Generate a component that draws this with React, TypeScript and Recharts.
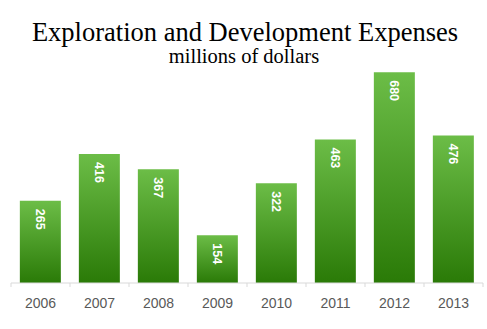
import { BarChart, Bar, XAxis, YAxis, LabelList } from 'recharts'

const years = ['2006', '2007', '2008', '2009', '2010', '2011', '2012', '2013']
const expenses = [265, 416, 367, 154, 322, 463, 680, 476]

const chartData = years.map((year, i) => ({ year, value: expenses[i] }))

const BAND = 59 // category width in px, used for the boundary tick marks

function YearTick(props: any) {
  const { x, y, payload, index } = props
  return (
    <g>
      <line x1={x - BAND / 2} y1={y} x2={x - BAND / 2} y2={y + 4} stroke="#d9d9d9" />
      {index === years.length - 1 && (
        <line x1={x + BAND / 2} y1={y} x2={x + BAND / 2} y2={y + 4} stroke="#d9d9d9" />
      )}
      <text
        x={x}
        y={y + 15}
        dy="0.71em"
        textAnchor="middle"
        fontFamily="'Liberation Sans', Arial, sans-serif"
        fontSize={14}
        fill="#595959"
      >
        {payload.value}
      </text>
    </g>
  )
}

function ValueLabel(props: any) {
  const { x, y, width, value } = props
  const cx = x + width / 2
  const ty = y + 8
  return (
    <text
      x={cx}
      y={ty}
      transform={`rotate(90, ${cx}, ${ty})`}
      textAnchor="start"
      dominantBaseline="central"
      fontFamily="'Liberation Sans', Arial, sans-serif"
      fontWeight="bold"
      fontSize={12.5}
      fill="#ffffff"
    >
      {value}
    </text>
  )
}

export default function App() {
  return (
    <div style={{ position: 'absolute', left: 0, top: 0, width: 487, height: 329, background: '#fff' }}>
      <svg width={487} height={80} style={{ position: 'absolute', left: 0, top: 0 }}>
        <text
          x={245}
          y={41}
          textAnchor="middle"
          fontFamily="'Liberation Serif', 'Times New Roman', serif"
          fontSize={26.5}
          fill="#000"
        >
          Exploration and Development Expenses
        </text>
        <text
          x={244}
          y={63}
          textAnchor="middle"
          fontFamily="'Liberation Serif', 'Times New Roman', serif"
          fontSize={20.5}
          fill="#000"
        >
          millions of dollars
        </text>
      </svg>
      <div style={{ position: 'absolute', left: 0, top: 0 }}>
        <BarChart
          width={487}
          height={329}
          data={chartData}
          margin={{ top: 35, right: 4, bottom: 16, left: 11 }}
          barCategoryGap="15%"
        >
          <defs>
            <linearGradient id="barGreen" x1="0" y1="0" x2="0" y2="1">
              <stop offset="0%" stopColor="#6cbd47" />
              <stop offset="100%" stopColor="#2a7a07" />
            </linearGradient>
          </defs>
          <YAxis hide domain={[0, 800]} width={0} />
          <XAxis
            dataKey="year"
            height={30}
            axisLine={{ stroke: '#d9d9d9' }}
            tickLine={false}
            tickSize={0}
            tickMargin={0}
            tick={<YearTick />}
            interval={0}
          />
          <Bar dataKey="value" fill="url(#barGreen)" isAnimationActive={false}>
            <LabelList dataKey="value" content={<ValueLabel />} />
          </Bar>
        </BarChart>
      </div>
    </div>
  )
}
